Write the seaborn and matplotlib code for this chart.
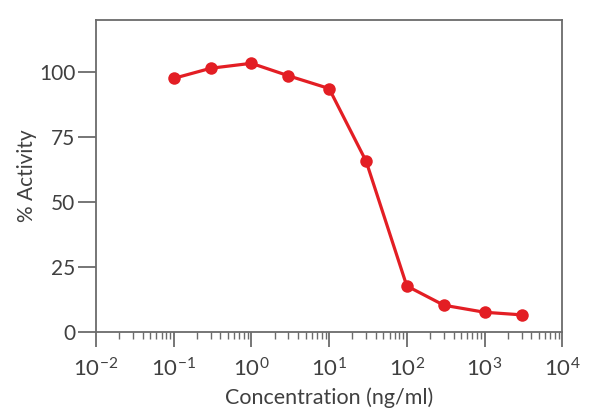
import numpy as np
import pandas as pd
import matplotlib
matplotlib.use("Agg")
import matplotlib.pyplot as plt
import matplotlib.ticker as mticker
import seaborn as sns

# Dose-response data
concentration = [0.1, 0.3, 1, 3, 10, 30, 100, 300, 1000, 3000]
activity = [97.5, 101.4, 103.3, 98.5, 93.6, 65.6, 17.7, 10.3, 7.6, 6.6]
x_ticks = [1e-2, 1e-1, 1e0, 1e1, 1e2, 1e3, 1e4]
y_ticks = [0, 25, 50, 75, 100]

df = pd.DataFrame({"conc": concentration, "act": activity})

sns.set_theme(style="ticks")
plt.rcParams["font.family"] = ["Lato", "DejaVu Sans"]
plt.rcParams["mathtext.fontset"] = "custom"
plt.rcParams["mathtext.rm"] = "Lato"
plt.rcParams["mathtext.it"] = "Lato"
plt.rcParams["axes.unicode_minus"] = False

text_color = "#404040"
spine_color = "#6b6b6b"
red = "#e31e24"

fig = plt.figure(figsize=(6, 4.19), dpi=100)
ax = fig.add_axes([0.16, 0.2076, 0.777, 0.745])

sns.lineplot(data=df, x="conc", y="act", ax=ax, color=red, linewidth=2.3,
             marker="o", markersize=9, markeredgewidth=0)

ax.set_xscale("log")
ax.set_xlim(1e-2, 1e4)
ax.set_ylim(0, 120)
ax.set_xticks(x_ticks)
ax.set_yticks(y_ticks)
ax.xaxis.set_major_formatter(mticker.FuncFormatter(
    lambda v, p: r"$\mathregular{10^{%d}}$" % int(round(np.log10(v)))))
ax.xaxis.set_minor_locator(mticker.LogLocator(base=10, subs=np.arange(2, 10), numticks=20))
ax.xaxis.set_minor_formatter(mticker.NullFormatter())

for s in ax.spines.values():
    s.set_color(spine_color)
    s.set_linewidth(1.3)

ax.tick_params(axis="both", which="major", direction="out", length=11, width=1.3,
               color=spine_color, labelsize=15, labelcolor=text_color, pad=5)
ax.tick_params(axis="x", which="minor", direction="out", length=5, width=1.0,
               color=spine_color)
ax.tick_params(axis="y", which="major", length=13, pad=2)
ax.tick_params(axis="x", which="major", labelsize=16, pad=7)

ax.set_xlabel("Concentration (ng/ml)", fontsize=15.5, color=text_color, labelpad=5)
ax.set_ylabel("% Activity", fontsize=15, color=text_color, labelpad=1)

fig.savefig("out.png", dpi=100)
